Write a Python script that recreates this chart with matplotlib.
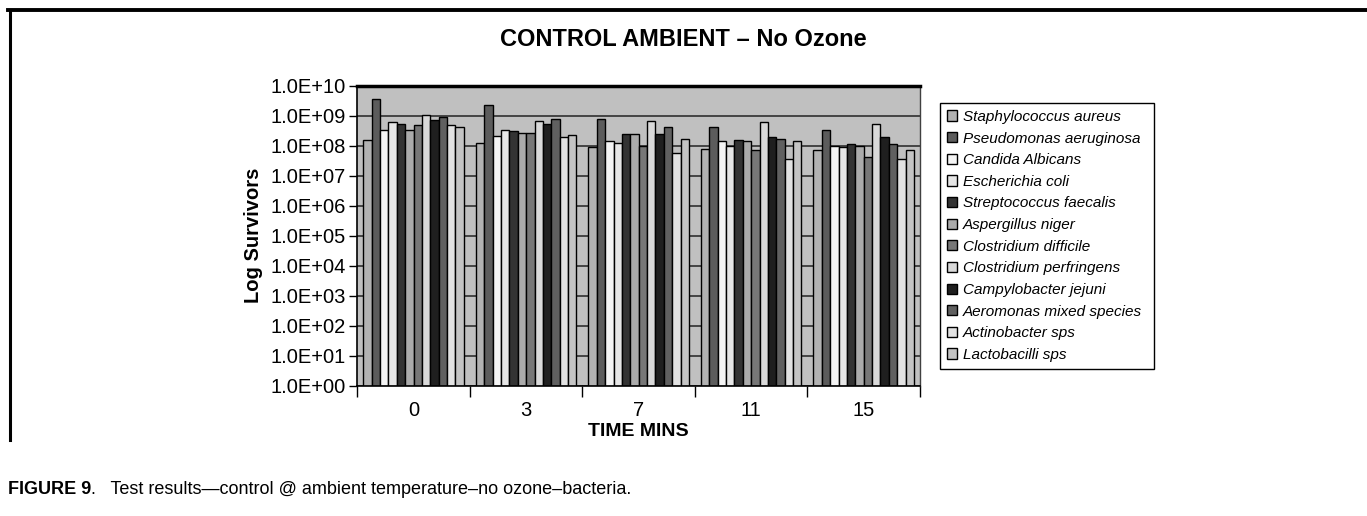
import numpy as np
import matplotlib
matplotlib.use("Agg")
from matplotlib import pyplot as plt
from matplotlib.lines import Line2D
from matplotlib.ticker import FuncFormatter, NullLocator

plt.rcParams['font.family'] = ['Liberation Sans', 'DejaVu Sans']

times = ["0", "3", "7", "11", "15"]
species = ["Staphylococcus aureus", "Pseudomonas aeruginosa", "Candida Albicans",
           "Escherichia coli", "Streptococcus faecalis", "Aspergillus niger",
           "Clostridium difficile", "Clostridium perfringens", "Campylobacter jejuni",
           "Aeromonas mixed species", "Actinobacter sps", "Lactobacilli sps"]
colors = ["#b2b2b2", "#5c5c5c", "#f4f4f4", "#e6e6e6", "#333333", "#ababab",
          "#777777", "#d9d9d9", "#1f1f1f", "#606060", "#e2e2e2", "#c4c4c4"]

# survivors per species, one value for each time point
staph = [1.5e8, 1.26e8, 9.0e7, 7.9e7, 7.2e7]
pseudo = [3.6e9, 2.3e9, 7.6e8, 4.2e8, 3.3e8]
candida = [3.4e8, 2.1e8, 1.4e8, 1.4e8, 1.0e8]
ecoli = [6.2e8, 3.4e8, 1.26e8, 1.0e8, 9.0e7]
strepto = [5.4e8, 3.1e8, 2.5e8, 1.55e8, 1.1e8]
asper = [3.4e8, 2.6e8, 2.5e8, 1.4e8, 1.0e8]
cdiff = [4.8e8, 2.6e8, 9.8e7, 7.2e7, 4.1e7]
cperf = [1.05e9, 6.8e8, 6.6e8, 6.0e8, 5.4e8]
campy = [7.0e8, 5.4e8, 2.5e8, 1.95e8, 1.95e8]
aero = [9.3e8, 7.8e8, 4.2e8, 1.7e8, 1.1e8]
actino = [4.8e8, 1.9e8, 5.6e7, 3.7e7, 3.7e7]
lacto = [4.3e8, 2.2e8, 1.7e8, 1.4e8, 7.2e7]
values = [staph, pseudo, candida, ecoli, strepto, asper, cdiff, cperf, campy, aero, actino, lacto]

fig = plt.figure(figsize=(13.67, 5.16), dpi=100)
ax = fig.add_axes([0.2614, 0.2525, 0.4116, 0.5814])
ax.set_facecolor("#c0c0c0")

x = np.arange(len(times))
w = 0.0744
for j, (name, vals) in enumerate(zip(species, values)):
    ax.bar(x + (j - 5.5) * w, vals, w, bottom=1, color=colors[j],
           edgecolor="black", linewidth=1.0, label=name, zorder=2)

ax.set_yscale("log")
ax.set_ylim(1, 1e10)
ax.set_xlim(-0.5, 4.5)
ax.yaxis.set_major_locator(matplotlib.ticker.LogLocator(base=10, numticks=20))
ax.yaxis.set_minor_locator(NullLocator())
ax.yaxis.set_major_formatter(FuncFormatter(lambda v, p: f"{v:.1E}"))
ax.yaxis.grid(True, color="#3a3a3a", linewidth=1.3)
ax.set_axisbelow(True)

ax.set_xticks(np.arange(-0.5, 5, 1))
ax.set_xticklabels([])
ax.set_xticks(x, minor=True)
ax.set_xticklabels(times, minor=True)
ax.tick_params(axis="x", which="major", length=8, width=1, direction="out")
ax.tick_params(axis="x", which="minor", length=0, pad=11, labelsize=14.5)
ax.tick_params(axis="y", length=6, width=1, labelsize=14.5, pad=2)

ax.spines["top"].set_linewidth(2.5)
ax.spines["right"].set_color("#404040")
ax.spines["right"].set_linewidth(1)
ax.spines["left"].set_linewidth(1.2)
ax.spines["bottom"].set_linewidth(1.2)

ax.set_xlabel("TIME MINS", fontsize=14, fontweight="bold", labelpad=2)
ax.set_ylabel("Log Survivors", fontsize=14.5, fontweight="bold", labelpad=6)

fig.text(0.5, 1 - 40 / 516, "CONTROL AMBIENT \u2013 No Ozone", ha="center", va="center",
         fontsize=17, fontweight="bold")

leg_h = 0.1
ax.legend(loc="upper left", bbox_to_anchor=(940 / 1367, 1 - 103 / 516 - leg_h, 214 / 1367, leg_h),
          bbox_transform=fig.transFigure, mode="expand", borderaxespad=0,
          fancybox=False, edgecolor="black", framealpha=1, prop={"style": "italic", "size": 11},
          handlelength=0.65, handleheight=0.65, handletextpad=0.4, labelspacing=0.5,
          borderpad=0.45)

# outer frame
fig.add_artist(Line2D([8 / 1367, 1], [1 - 9.5 / 516, 1 - 9.5 / 516], color="black",
                      linewidth=2.8, transform=fig.transFigure))
fig.add_artist(Line2D([9.5 / 1367, 9.5 / 1367], [1 - 9.5 / 516, 1 - 440 / 516], color="black",
                      linewidth=2.2, transform=fig.transFigure))

t1 = fig.text(8 / 1367, 1 - 489 / 516, "FIGURE 9", fontsize=13, fontweight="bold", va="center")
ax.annotate(".   Test results\u2014control @ ambient temperature\u2013no ozone\u2013bacteria.",
            xy=(1, 0), xycoords=t1, va="bottom", fontsize=13, annotation_clip=False)

fig.savefig("out.png", dpi=100)
